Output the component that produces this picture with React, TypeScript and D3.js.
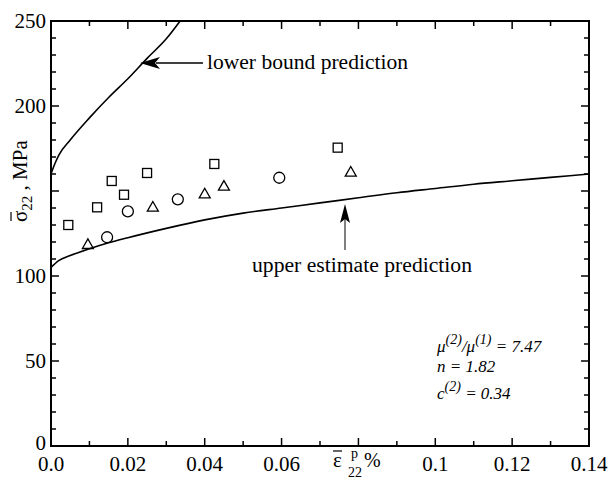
import React from 'react';
import * as d3 from 'd3';

// measured points (strain %, stress MPa)
const squarePts: [number, number][] = [
  [0.0045, 130], [0.012, 140.4], [0.0158, 155.9], [0.019, 147.8],
  [0.025, 160.6], [0.0425, 165.9], [0.0746, 175.5],
];
const circlePts: [number, number][] = [
  [0.0146, 122.8], [0.020, 138], [0.033, 145.1], [0.0594, 157.8],
];
const trianglePts: [number, number][] = [
  [0.0096, 118.6], [0.0265, 140.6], [0.040, 148.4], [0.045, 152.9], [0.078, 161.2],
];
const lowerBound: [number, number][] = [
  [0, 160], [0.001, 166], [0.002, 171], [0.005, 180], [0.01, 193], [0.015, 205],
  [0.02, 216], [0.025, 228], [0.03, 239.5], [0.0336, 250],
];
const upperEstimate: [number, number][] = [
  [0, 105], [0.002, 109], [0.005, 112], [0.01, 116], [0.015, 119.5], [0.02, 122.5],
  [0.03, 128], [0.04, 133], [0.05, 137], [0.06, 140], [0.07, 143], [0.08, 146],
  [0.09, 149], [0.1, 151.5], [0.11, 154], [0.12, 156], [0.13, 158], [0.14, 160],
];
const xTickLabels: [number, string][] = [
  [0, '0.0'], [0.02, '0.02'], [0.04, '0.04'], [0.06, '0.06'],
  [0.1, '0.1'], [0.12, '0.12'], [0.14, '0.14'],
];
const yTickLabels = [0, 50, 100, 200, 250];

const W = 608;
const H = 482;
const font = "Liberation Serif, Times New Roman, Times, DejaVu Serif, Noto Serif, serif";

export default function App() {
  const x = d3.scaleLinear().domain([0, 0.14]).range([51, 589]);
  const y = d3.scaleLinear().domain([0, 250]).range([446, 21]);
  const line = d3.line<[number, number]>().x((d) => x(d[0])).y((d) => y(d[1])).curve(d3.curveMonotoneX);

  const xMinor = d3.range(0, 0.1401, 0.01);
  const yMinor = d3.range(0, 251, 10);
  const [x0, x1] = x.range();
  const [y0, y1] = y.range();

  const tri = (cx: number, cy: number) => {
    const s = 5.5;
    return `M${cx},${cy - s} L${cx + s},${cy + s * 0.75} L${cx - s},${cy + s * 0.75} Z`;
  };

  // arrow tips
  const lowTip = [140, 63];
  const upTip = [345, 204];

  return (
    <svg width={W} height={H} style={{ position: 'absolute', left: 0, top: 0, background: '#fff' }}>
      {/* ticks */}
      <g stroke="#000" strokeWidth={1.5}>
        {xMinor.map((v, i) => {
          const len = i % 2 === 0 ? 8 : 5;
          return (
            <g key={'xt' + i}>
              <line x1={x(v)} x2={x(v)} y1={y0} y2={y0 - len} />
              <line x1={x(v)} x2={x(v)} y1={y1} y2={y1 + len} />
            </g>
          );
        })}
        {yMinor.map((v, i) => {
          const len = i % 5 === 0 ? 8 : 5;
          return (
            <g key={'yt' + i}>
              <line x1={x0} x2={x0 + len} y1={y(v)} y2={y(v)} />
              <line x1={x1} x2={x1 - len} y1={y(v)} y2={y(v)} />
            </g>
          );
        })}
      </g>
      <rect x={x0} y={y1} width={x1 - x0} height={y0 - y1} fill="none" stroke="#000" strokeWidth={2} />

      <g fontFamily={font}>
        {/* tick labels */}
        {xTickLabels.map(([v, t]) => (
          <text key={t} x={x(v)} y={471} textAnchor="middle" fontSize={21}>{t}</text>
        ))}
        {yTickLabels.map((v) => (
          <text key={v} x={46} y={y(v) + (v === 0 ? 4 : 7)} textAnchor="end" fontSize={21}>{v}</text>
        ))}

        {/* axis labels */}
        <g transform="translate(27,222) rotate(-90)">
          <text x={0} y={0} fontSize={21}>
            σ<tspan fontSize={15} dy={5}>22</tspan><tspan dy={-5}> , MPa</tspan>
          </text>
          <line x1={1} x2={10} y1={-16} y2={-16} stroke="#000" strokeWidth={1.2} />
        </g>
        <text x={333} y={467} fontSize={21}>ε</text>
        <line x1={333} x2={342} y1={451} y2={451} stroke="#000" strokeWidth={1.2} />
        <text x={351} y={458} fontSize={14}>p</text>
        <text x={348} y={477} fontSize={14}>22</text>
        <text x={364} y={467} fontSize={20}>%</text>

        {/* annotations */}
        <text x={207} y={69} fontSize={20} textLength={201} lengthAdjust="spacingAndGlyphs">lower bound prediction</text>
        <text x={252} y={272} fontSize={20} textLength={220} lengthAdjust="spacingAndGlyphs">upper estimate prediction</text>

        <g fontStyle="italic" fontSize={17}>
          <text x={437} y={352}>
            μ<tspan fontSize={14} dy={-8}>(2)</tspan><tspan dy={8}>/</tspan>μ<tspan fontSize={14} dy={-8}>(1)</tspan><tspan dy={8}> = 7.47</tspan>
          </text>
          <text x={437} y={372}>n = 1.82</text>
          <text x={437} y={399}>
            c<tspan fontSize={14} dy={-8}>(2)</tspan><tspan dy={8}> = 0.34</tspan>
          </text>
        </g>
      </g>

      {/* curves */}
      <path d={line(lowerBound) || ''} fill="none" stroke="#000" strokeWidth={1.6} />
      <path d={line(upperEstimate) || ''} fill="none" stroke="#000" strokeWidth={1.6} />

      {/* markers */}
      <g fill="none" stroke="#000" strokeWidth={1.3}>
        {squarePts.map((d, i) => (
          <rect key={'s' + i} x={x(d[0]) - 4.5} y={y(d[1]) - 4.5} width={9} height={9} />
        ))}
        {circlePts.map((d, i) => (
          <circle key={'c' + i} cx={x(d[0])} cy={y(d[1])} r={5.5} />
        ))}
        {trianglePts.map((d, i) => (
          <path key={'t' + i} d={tri(x(d[0]), y(d[1]))} />
        ))}
      </g>

      {/* arrows */}
      <line x1={lowTip[0] + 16} y1={lowTip[1]} x2={203} y2={lowTip[1]} stroke="#000" strokeWidth={1.3} />
      <path d={`M${lowTip[0]},${lowTip[1]} L${lowTip[0] + 20},${lowTip[1] - 6} L${lowTip[0] + 15},${lowTip[1]} L${lowTip[0] + 20},${lowTip[1] + 6} Z`} fill="#000" />
      <line x1={upTip[0]} y1={upTip[1] + 15} x2={upTip[0]} y2={250} stroke="#000" strokeWidth={1} />
      <path d={`M${upTip[0]},${upTip[1]} L${upTip[0] + 5},${upTip[1] + 19} L${upTip[0]},${upTip[1] + 15} L${upTip[0] - 5},${upTip[1] + 19} Z`} fill="#000" />
    </svg>
  );
}
